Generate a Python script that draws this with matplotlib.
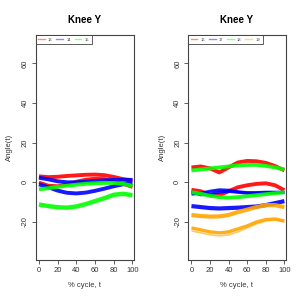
import matplotlib
matplotlib.use("Agg")
import matplotlib.pyplot as plt
import numpy as np

plt.rcParams['font.family'] = ['Liberation Sans', 'DejaVu Sans']

t = [0, 10, 20, 30, 40, 50, 60, 70, 80, 90, 100]

# Left panel: subjects 13, 14, 15
left_labels = ["13", "14", "15"]
s13a = [3.0, 2.6, 2.8, 3.2, 3.5, 3.8, 3.9, 3.6, 2.7, 1.6, 0.8]
s13b = [0.0, -1.5, -1.8, -1.0, 0.5, 1.5, 2.0, 1.8, 0.5, -1.0, -2.5]
s14a = [2.3, 1.5, 0.5, 0.0, 0.0, 0.3, 0.6, 1.0, 1.2, 1.3, 1.2]
s14b = [-1.0, -2.5, -4.2, -5.3, -5.6, -5.2, -4.3, -3.2, -2.0, -1.0, -0.5]
s15a = [-3.5, -3.0, -2.3, -1.7, -1.2, -0.8, -0.5, -0.3, -0.3, -0.8, -1.8]
s15b = [-11.2, -12.0, -12.6, -12.8, -12.2, -11.0, -9.5, -8.0, -6.3, -5.8, -6.5]

# Right panel: subjects 16, 17, 18, 19
right_labels = ["16", "17", "18", "19"]
s16a = [7.5, 8.0, 7.0, 5.0, 7.5, 10.0, 10.8, 10.6, 9.8, 8.2, 6.0]
s16b = [-3.8, -4.5, -6.5, -6.5, -4.5, -2.5, -1.5, -0.8, -0.5, -1.5, -4.0]
s17a = [-6.0, -5.5, -4.5, -3.8, -4.0, -4.8, -5.2, -5.2, -5.0, -5.0, -5.0]
s17b = [-5.0, -6.3, -6.0, -5.0, -4.6, -5.0, -5.5, -5.5, -5.3, -5.2, -5.2]
s17c = [-12.0, -12.5, -13.0, -13.2, -13.0, -12.8, -12.5, -12.2, -11.5, -10.5, -9.5]
s18a = [6.0, 6.5, 7.0, 7.5, 8.0, 8.5, 8.8, 8.8, 8.3, 7.5, 6.5]
s18b = [-5.0, -5.8, -6.8, -7.5, -7.8, -7.5, -7.0, -6.5, -6.0, -5.5, -5.0]
s19a = [-16.5, -17.0, -17.3, -17.2, -16.5, -15.0, -13.8, -12.5, -11.5, -11.5, -12.5]
s19b = [-23.0, -24.0, -25.0, -25.5, -25.0, -23.5, -22.0, -20.0, -18.8, -18.5, -19.5]
s19c = [-24.5, -25.5, -26.5, -27.0, -26.5, -25.0, -23.0, -21.0, -19.5, -19.0, -20.0]

RED, BLUE, GREEN, ORANGE = "#FF0000", "#0000FF", "#00FF00", "#FFA500"

fig = plt.figure(figsize=(3.05, 3.05), dpi=100)
axL = fig.add_axes([0.117, 0.1475, 0.322, 0.7377])
axR = fig.add_axes([0.617, 0.1475, 0.320, 0.7377])

def style(ax, labels, colors):
    ax.set_xlim(-3.5, 101.5)
    ax.set_ylim(-39.2, 74.3)
    ax.set_xticks([0, 20, 40, 60, 80, 100])
    ax.set_yticks([-20, 0, 20, 40, 60])
    ax.set_yticklabels(["-20", "0", "20", "40", "60"], rotation=90, va='center')
    ax.tick_params(labelsize=5.5, length=3, width=0.6, colors='#444444', labelcolor='#333333', pad=2)
    for s in ax.spines.values():
        s.set_color('#444444'); s.set_linewidth(0.8)
    ax.set_title("Knee Y", fontsize=7, fontweight='bold', pad=9)
    ax.set_xlabel("% cycle, t", fontsize=5.5, color='#333333', labelpad=6)
    ax.set_ylabel("Angle(t)", fontsize=5.5, color='#333333', labelpad=6)
    handles = [plt.Line2D([], [], color=c, lw=1.0, alpha=0.45) for c in colors]
    leg = ax.legend(handles, labels, loc='upper left', ncol=len(labels), fontsize=3,
                    frameon=True, fancybox=False, borderaxespad=0, handlelength=1.6,
                    columnspacing=0.9, handletextpad=0.8, borderpad=0.6)
    leg.get_frame().set_edgecolor('#333333'); leg.get_frame().set_linewidth(0.7)
    for txt in leg.get_texts():
        txt.set_color('#444444')

def draw(ax, y, c, lw=2.8, a=0.9):
    ax.plot(t, y, color=c, lw=lw, alpha=a, solid_capstyle='butt')

draw(axL, s13a, RED); draw(axL, s13b, RED, 2.2)
draw(axL, s14a, BLUE); draw(axL, s14b, BLUE)
draw(axL, s15a, GREEN); draw(axL, s15b, GREEN, 3.2)
style(axL, left_labels, [RED, BLUE, GREEN])

draw(axR, s16a, RED); draw(axR, s16b, RED)
draw(axR, s17a, BLUE, 2.2); draw(axR, s17b, BLUE, 2.2); draw(axR, s17c, BLUE, 3.0)
draw(axR, s18a, GREEN); draw(axR, s18b, GREEN)
draw(axR, s19a, ORANGE, 3.0); draw(axR, s19b, ORANGE, 2.4); draw(axR, s19c, ORANGE, 1.2, 0.6)
style(axR, right_labels, [RED, BLUE, GREEN, ORANGE])

fig.savefig("out.png", dpi=100)
